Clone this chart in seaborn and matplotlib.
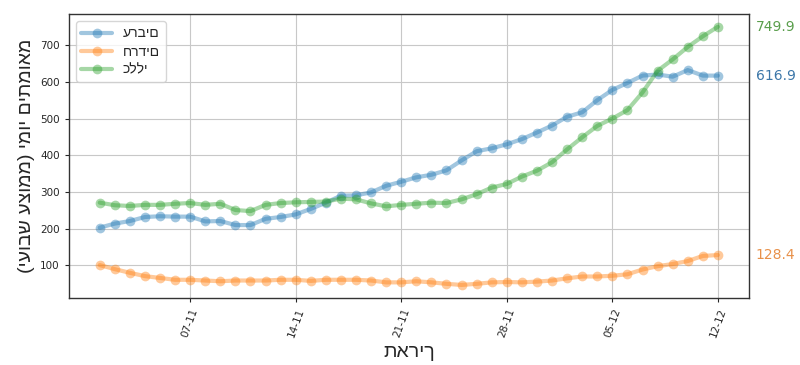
import matplotlib
matplotlib.use('Agg')
import matplotlib.pyplot as plt
import matplotlib.dates as mdates
import matplotlib.transforms as mtransforms
import pandas as pd
import seaborn as sns

# ממוצע שבועי של מאומתים יומיים, 01-11 עד 12-12
dates = pd.date_range('2020-11-01', '2020-12-12', freq='D')

arabs = [203, 214, 221, 232, 234, 233, 233, 220, 221, 210, 210, 227, 232, 239,
         254, 271, 290, 291, 299, 317, 328, 340, 347, 359, 386, 411, 419, 430,
         444, 462, 481, 505, 517, 550, 578, 597, 617, 620, 614, 632, 617, 616.9]
haredim = [101, 90, 80, 71, 66, 61, 61, 59, 57, 59, 59, 59, 61, 61,
           58, 61, 61, 61, 59, 54, 54, 57, 54, 50, 47, 50, 54, 55,
           54, 56, 59, 65, 70, 70, 72, 76, 89, 98, 104, 112, 126, 128.4]
general = [271, 264, 262, 265, 265, 268, 270, 265, 268, 251, 248, 265, 270, 272,
           273, 274, 282, 280, 269, 261, 265, 268, 271, 270, 280, 294, 312, 322,
           342, 358, 381, 416, 449, 480, 500, 523, 571, 630, 661, 695, 724, 749.9]

series_names = ['ערבים', 'חרדים', 'כללי']
series_values = [arabs, haredim, general]
colors = ['#1f77b4', '#ff7f0e', '#2ca02c']
text_colors = ['#3b76a8', '#e8914a', '#5a9e4c']

tick_dates = ['2020-11-07', '2020-11-14', '2020-11-21',
              '2020-11-28', '2020-12-05', '2020-12-12']

hebrew_font = ['Liberation Sans', 'DejaVu Sans']


def rtl(s):
    # היפוך לתצוגה מימין לשמאל
    swap = {'(': ')', ')': '('}
    return ''.join(swap.get(c, c) for c in s[::-1])


sns.set_style('ticks')
plt.rcParams['font.family'] = ['DejaVu Sans']

fig = plt.figure(figsize=(8, 3.65), dpi=100)
ax = fig.add_axes([0.086, 0.184, 0.85, 0.778])

for name, vals, c in zip(series_names, series_values, colors):
    sns.lineplot(x=dates, y=vals, ax=ax, color=c, marker='o', markersize=7,
                 linewidth=3, alpha=0.42, markeredgewidth=0, label=name)

# ערך אחרון מימין לגרף
trans = mtransforms.blended_transform_factory(ax.transAxes, ax.transData)
for vals, c in zip(series_values, text_colors):
    ax.text(1.01, vals[-1], f'{vals[-1]:.1f}', color=c, fontsize=10,
            va='center', ha='left', transform=trans)

ax.grid(True, color='#c8c8c8', linewidth=0.8)
for sp in ax.spines.values():
    sp.set_color('#333333')
    sp.set_linewidth(1)

ax.set_xticks(pd.to_datetime(tick_dates))
ax.xaxis.set_major_formatter(mdates.DateFormatter('%d-%m'))
ax.tick_params(axis='x', labelrotation=70, labelsize=7.5, length=3)
ax.tick_params(axis='y', labelsize=7.5, length=3)
ax.set_yticks([100, 200, 300, 400, 500, 600, 700])

ax.set_xlabel('תאריך', fontsize=14, family=hebrew_font)
ax.set_ylabel(rtl('מאומתים יומי (ממוצע שבועי)'), fontsize=14, family=hebrew_font)

leg = ax.legend(loc='upper left', prop={'family': hebrew_font, 'size': 10},
                handlelength=2.2, labelspacing=0.3)
for line in leg.get_lines():
    line.set_alpha(0.42)

fig.savefig('out.png', dpi=100)
